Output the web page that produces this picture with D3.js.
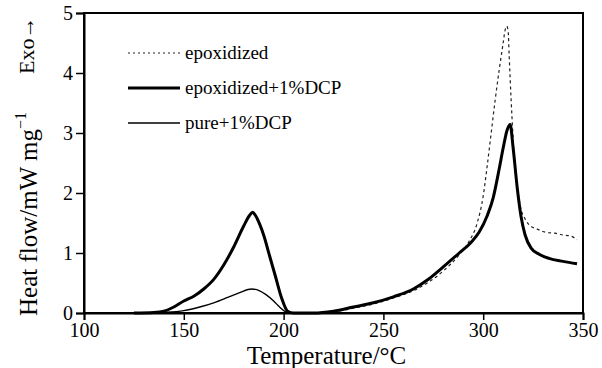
<!DOCTYPE html>
<html><head><meta charset="utf-8">
<script src="https://cdn.jsdelivr.net/npm/d3@7"></script>
<style>body{margin:0;background:#fff}svg text{font-family:"Times New Roman",Times,"Liberation Serif",Tinos,"Nimbus Roman",serif !important;fill:#000}</style>
</head><body><svg id="c" width="602" height="368"></svg>
<script>
const xTicks=[100,150,200,250,300,350];
const yTicks=[0,1,2,3,4,5];
const seriesNames=["epoxidized","epoxidized+1%DCP","pure+1%DCP"];
const epoxT=[210,225,235,245,255,265,272,280,288,293,297,300,302,304,306,308,310,311,311.8,312.5,313,314,315,316,317.5,319,320.5,323,327,332,336,340,344,347];
const epoxV=[0,0.02,0.08,0.15,0.25,0.37,0.5,0.7,0.97,1.2,1.5,1.95,2.45,3.0,3.55,4.05,4.5,4.72,4.78,4.7,4.3,3.55,2.9,2.4,2.0,1.72,1.6,1.47,1.4,1.34,1.33,1.3,1.28,1.22];
const epoxDcpT=[125,135,140,145,150,155,160,165,170,175,180,183,184.5,186,188,190,193,196,199,202,205,215,225,235,245,255,265,272,280,288,294,298,302,305,308,310,312,313.5,315,317,319,321,324,328,333,340,347];
const epoxDcpV=[0,0.01,0.03,0.1,0.2,0.28,0.4,0.56,0.8,1.1,1.45,1.63,1.68,1.62,1.48,1.3,0.95,0.6,0.25,0.03,0,0,0.03,0.1,0.17,0.27,0.4,0.55,0.77,1.0,1.18,1.35,1.62,1.92,2.4,2.75,3.05,3.14,2.75,2.1,1.6,1.3,1.08,0.98,0.91,0.86,0.82];
const pureDcpT=[130,140,150,158,165,172,178,184,188,191,195,198,201,203];
const pureDcpV=[0,0.01,0.04,0.1,0.17,0.26,0.34,0.4,0.37,0.31,0.2,0.1,0.02,0];

const svg=d3.select("#c");
const m={l:84,r:583,t:13,b:313};
const x=d3.scaleLinear().domain([100,350]).range([m.l,m.r]);
const y=d3.scaleLinear().domain([0,5]).range([m.b,m.t]);

const line=d3.line().x(d=>x(d[0])).y(d=>y(d[1])).curve(d3.curveMonotoneX);
const mk=(T,V)=>T.map((t,i)=>[t,V[i]]);

svg.append("path").datum(mk(epoxT,epoxV)).attr("d",line).attr("fill","none").attr("stroke","#222").attr("stroke-width",1.2).attr("stroke-dasharray","3,3");
svg.append("path").datum(mk(pureDcpT,pureDcpV)).attr("d",line).attr("fill","none").attr("stroke","#000").attr("stroke-width",1.4);
svg.append("path").datum(mk(epoxDcpT,epoxDcpV)).attr("d",line).attr("fill","none").attr("stroke","#000").attr("stroke-width",3);

svg.append("rect").attr("x",m.l).attr("y",m.t).attr("width",m.r-m.l).attr("height",m.b-m.t).attr("fill","none").attr("stroke","#000").attr("stroke-width",2);

const xa=svg.append("g").attr("transform",`translate(0,${m.b})`).call(d3.axisBottom(x).tickValues(xTicks).tickSize(7).tickPadding(3).tickFormat(d3.format("d")));
const ya=svg.append("g").attr("transform",`translate(${m.l},0)`).call(d3.axisLeft(y).tickValues(yTicks).tickSize(8).tickPadding(3).tickFormat(d3.format("d")));
[xa,ya].forEach(a=>{a.select(".domain").attr("stroke-width",2);a.selectAll(".tick line").attr("stroke-width",1.5);a.selectAll("text").style("font-size","20px");});

svg.append("text").attr("x",(m.l+m.r)/2-7).attr("y",364).attr("text-anchor","middle").style("font-size","25px").text("Temperature/°C");
const yl=svg.append("text").attr("transform","translate(37,316) rotate(-90)").style("font-size","25px");
yl.append("tspan").text("Heat flow/mW mg");
yl.append("tspan").attr("dy",-11).style("font-size","16px").text("−1");
svg.append("text").attr("transform","translate(34,74) rotate(-90)").style("font-size","22px").text("Exo→");

const leg=[{n:seriesNames[0],w:1.2,da:"2,3",c:"#222"},{n:seriesNames[1],w:3,da:null,c:"#000"},{n:seriesNames[2],w:1.4,da:null,c:"#000"}];
const lg=svg.append("g");
leg.forEach((d,i)=>{
  const yy=53+i*35;
  lg.append("line").attr("x1",128).attr("x2",180).attr("y1",yy).attr("y2",yy).attr("stroke",d.c).attr("stroke-width",d.w).attr("stroke-dasharray",d.da);
  lg.append("text").attr("x",185).attr("y",yy+6).style("font-size","19px").text(d.n);
});
</script></body></html>
